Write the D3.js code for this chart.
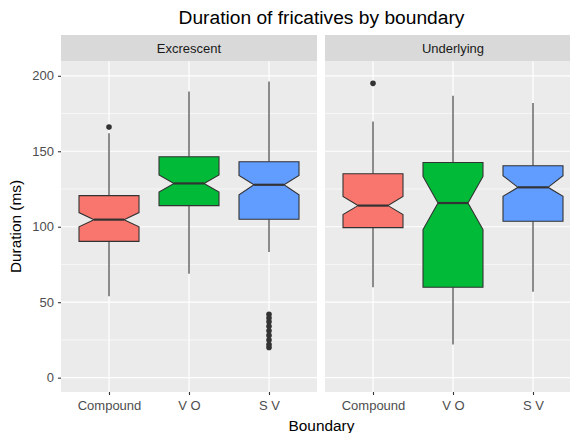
<!DOCTYPE html>
<html>
<head>
<meta charset="utf-8">
<script src="https://cdn.jsdelivr.net/npm/d3@7"></script>
<style>
  body { margin: 0; background: #fff; }
  svg { font-family: "Liberation Sans", Arial, sans-serif; }
</style>
</head>
<body>
<svg id="chart" width="570" height="433"></svg>
<script>
// data
const facets = ["Excrescent", "Underlying"];
const boundaries = ["Compound", "V O", "S V"];
const fills = ["#F8766D", "#00BA38", "#619CFF"];
const yTicks = [0, 50, 100, 150, 200];
const yMinor = [25, 75, 125, 175];

// per facet, per boundary: [whiskerLow, q1, notchLow, median, notchHigh, q3, whiskerHigh]
const excrescentStats = [
    [54, 90.3, 100, 104.7, 109.4, 120.6, 162],
    [68.8, 114, 123, 128.7, 134.3, 146.4, 189.6],
    [83.3, 105, 121.2, 127.8, 134, 143, 196.2]
];
const underlyingStats = [
    [59.9, 99.4, 108, 114, 120.1, 135.1, 169.7],
    [22, 59.9, 98.1, 115.7, 133.3, 142.6, 186.7],
    [56.9, 103.6, 120.1, 126.1, 133.8, 140.4, 181.9]
];
const excrescentOutliers = [[166], [], [42, 39.5, 37, 34, 31, 28, 25, 22, 20]];
const underlyingOutliers = [[195], [], []];

const stats = [excrescentStats, underlyingStats];
const outliers = [excrescentOutliers, underlyingOutliers];

const svg = d3.select("#chart");
const panelTop = 61, panelBottom = 392, stripTop = 35;
const panelLeft = [61, 325], panelWidth = 256;

const y = d3.scaleLinear().domain([-9.5, 209.8]).range([panelBottom, panelTop]);

svg.append("text")
    .attr("x", 321.5).attr("y", 24)
    .attr("text-anchor", "middle")
    .attr("font-size", 19.2)
    .attr("fill", "#000")
    .text("Duration of fricatives by boundary");

facets.forEach((facet, fi) => {
    const x0 = panelLeft[fi];
    const x = d3.scalePoint().domain(boundaries)
        .range([x0 + 0.6 * 80, x0 + 2.6 * 80]);
    const boxW = 60;
    const g = svg.append("g");

    // strip
    g.append("rect")
        .attr("x", x0).attr("y", stripTop)
        .attr("width", panelWidth).attr("height", panelTop - stripTop)
        .attr("fill", "#D9D9D9");
    g.append("text")
        .attr("x", x0 + panelWidth / 2).attr("y", (stripTop + panelTop) / 2 + 4.5)
        .attr("text-anchor", "middle")
        .attr("font-size", 13)
        .attr("fill", "#1A1A1A")
        .text(facet);

    // panel background + grid
    g.append("rect")
        .attr("x", x0).attr("y", panelTop)
        .attr("width", panelWidth).attr("height", panelBottom - panelTop)
        .attr("fill", "#EBEBEB");
    g.selectAll(".minor").data(yMinor).join("line")
        .attr("x1", x0).attr("x2", x0 + panelWidth)
        .attr("y1", d => y(d)).attr("y2", d => y(d))
        .attr("stroke", "#fff").attr("stroke-width", 0.6);
    g.selectAll(".major").data(yTicks).join("line")
        .attr("x1", x0).attr("x2", x0 + panelWidth)
        .attr("y1", d => y(d)).attr("y2", d => y(d))
        .attr("stroke", "#fff").attr("stroke-width", 1.2);
    g.selectAll(".vgrid").data(boundaries).join("line")
        .attr("x1", d => x(d)).attr("x2", d => x(d))
        .attr("y1", panelTop).attr("y2", panelBottom)
        .attr("stroke", "#fff").attr("stroke-width", 1.2);

    // x axis
    const xAxis = g.append("g")
        .attr("transform", `translate(0,${panelBottom})`)
        .call(d3.axisBottom(x).tickSize(3).tickPadding(6));
    xAxis.select(".domain").remove();
    xAxis.selectAll(".tick line").attr("stroke", "#333").attr("stroke-width", 1.1);
    xAxis.selectAll(".tick text").attr("fill", "#4D4D4D")
        .attr("font-size", 13).attr("font-family", "Liberation Sans, Arial, sans-serif");

    // boxes
    boundaries.forEach((b, bi) => {
        const [wLo, q1, nLo, med, nHi, q3, wHi] = stats[fi][bi];
        const cx = x(b);
        const hw = boxW / 2, nw = boxW / 4;
        g.append("line")
            .attr("x1", cx).attr("x2", cx)
            .attr("y1", y(q3)).attr("y2", y(wHi))
            .attr("stroke", "#333").attr("stroke-width", 1.1);
        g.append("line")
            .attr("x1", cx).attr("x2", cx)
            .attr("y1", y(q1)).attr("y2", y(wLo))
            .attr("stroke", "#333").attr("stroke-width", 1.1);
        const pts = [
            [cx - hw, y(q3)], [cx + hw, y(q3)], [cx + hw, y(nHi)], [cx + nw, y(med)],
            [cx + hw, y(nLo)], [cx + hw, y(q1)], [cx - hw, y(q1)], [cx - hw, y(nLo)],
            [cx - nw, y(med)], [cx - hw, y(nHi)]
        ];
        g.append("path")
            .attr("d", d3.line()(pts) + "Z")
            .attr("fill", fills[bi])
            .attr("stroke", "#333").attr("stroke-width", 1.1);
        g.append("line")
            .attr("x1", cx - nw).attr("x2", cx + nw)
            .attr("y1", y(med)).attr("y2", y(med))
            .attr("stroke", "#333").attr("stroke-width", 2.2);
        g.selectAll(null).data(outliers[fi][bi]).join("circle")
            .attr("cx", cx).attr("cy", d => y(d))
            .attr("r", 2.8).attr("fill", "#333");
    });
});

// y axis
const yAxis = svg.append("g")
    .attr("transform", `translate(${panelLeft[0]},0)`)
    .call(d3.axisLeft(y).tickValues(yTicks).tickSize(3).tickPadding(4));
yAxis.select(".domain").remove();
yAxis.selectAll(".tick line").attr("stroke", "#333").attr("stroke-width", 1.1);
yAxis.selectAll(".tick text").attr("fill", "#4D4D4D")
    .attr("font-size", 13).attr("font-family", "Liberation Sans, Arial, sans-serif");

svg.append("text")
    .attr("transform", `translate(21,${(panelTop + panelBottom) / 2}) rotate(-90)`)
    .attr("text-anchor", "middle")
    .attr("font-size", 15.4)
    .text("Duration (ms)");

svg.append("text")
    .attr("x", 321.5).attr("y", 431)
    .attr("text-anchor", "middle")
    .attr("font-size", 15.4)
    .text("Boundary");
</script>
</body>
</html>
